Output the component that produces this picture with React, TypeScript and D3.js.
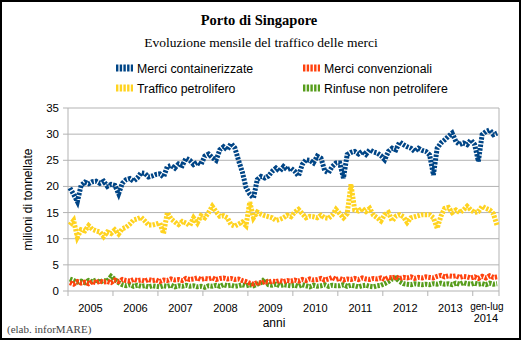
import React from "react";
import * as d3 from "d3";

const years = ["2005", "2006", "2007", "2008", "2009", "2010", "2011", "2012", "2013", "2014"];
const yTicks = [0, 5, 10, 15, 20, 25, 30, 35];

const containerizzate = [
  19.7, 18.5, 17.1, 20.2, 20.8, 20.5, 20.9, 21.0, 20.6, 21.0, 20.0, 20.4,
  20.2, 18.6, 20.6, 21.3, 21.5, 21.0, 21.6, 22.6, 22.5, 21.8, 22.0, 22.3,
  22.4, 21.8, 23.8, 24.0, 23.5, 24.3, 24.0, 25.4, 25.0, 24.2, 24.6, 24.2,
  25.8, 26.2, 25.5, 25.0, 27.0, 27.6, 27.0, 28.2, 27.4, 25.0, 22.8, 19.8,
  18.5, 17.8, 21.3, 21.9, 21.6, 22.0, 22.9, 23.5, 22.9, 23.8, 23.2, 23.5,
  22.9, 22.0, 24.2, 25.1, 25.0, 24.5, 25.8, 25.4, 23.0, 22.6, 23.8, 24.5,
  24.5, 21.6, 26.1, 26.5, 26.7, 26.2, 26.7, 26.1, 27.0, 26.6, 26.4, 25.9,
  25.1, 26.7, 27.3, 27.0, 28.5, 28.0, 27.6, 27.3, 26.7, 27.3, 26.9, 26.7,
  26.0, 22.2, 27.3, 28.3, 28.9, 29.6, 30.2, 28.6, 28.0, 28.3, 28.0, 28.9,
  28.0, 24.8, 29.9, 30.5, 30.8, 29.9, 30.2,
];

const convenzionali = [
  1.6, 1.3, 1.8, 1.5, 1.7, 1.4, 1.8, 1.6, 1.9, 1.7, 1.8, 1.6,
  2.1, 1.8, 2.2, 2.0, 1.9, 2.2, 2.0, 2.1, 1.9, 2.2, 2.0, 2.1,
  1.8, 2.1, 2.0, 2.3, 2.1, 2.2, 2.0, 2.4, 2.2, 2.3, 2.5, 2.2,
  2.4, 2.3, 2.5, 2.2, 2.4, 2.5, 2.3, 2.4, 2.2, 2.3, 2.0, 1.8,
  1.5, 1.3, 1.6, 1.5, 1.8, 1.7, 1.9, 1.8, 2.0, 1.8, 2.0, 1.9,
  2.1, 1.9, 2.2, 2.0, 2.3, 2.1, 2.2, 2.4, 2.1, 2.3, 2.6, 2.2,
  2.4, 2.1, 2.3, 2.2, 2.4, 2.2, 2.5, 2.3, 2.2, 2.4, 2.3, 2.5,
  2.2, 2.6, 2.5, 2.7, 2.4, 2.6, 2.5, 2.7, 2.4, 2.6, 2.5, 2.7,
  2.6, 2.5, 2.8, 3.0, 2.7, 2.9, 2.8, 2.9, 2.6, 2.8, 2.7, 2.5,
  2.7, 2.4, 2.8, 2.5, 2.9, 2.6, 2.7,
];

const petrolifero = [
  12.6, 13.5, 10.3, 11.7, 11.5, 12.5, 11.8, 11.5, 11.3, 10.4, 11.3, 11.0,
  11.7, 10.9, 11.9, 12.2, 12.8, 13.6, 13.8, 14.1, 13.4, 12.6, 12.6, 12.8,
  13.0, 11.0, 15.0, 13.8, 13.2, 12.7, 13.3, 13.0, 12.5, 14.0, 13.0, 14.4,
  14.0, 15.0, 16.2, 15.2, 14.3, 14.4, 14.0, 12.7, 12.4, 12.8, 13.2, 12.5,
  17.0, 14.0, 15.1, 14.7, 14.4, 14.2, 14.0, 13.5, 13.7, 14.0, 14.5, 14.2,
  15.1, 15.6, 14.8, 14.0, 14.3, 14.2, 14.0, 14.5, 14.0, 13.9, 14.5, 15.6,
  14.8, 14.0, 14.8, 20.4, 15.5, 15.3, 15.8, 15.2, 15.8, 14.5, 14.0, 13.4,
  14.6, 15.0, 13.4, 14.3, 14.6, 14.2, 13.1, 14.0, 14.2, 14.4, 14.6, 14.6,
  14.6, 14.0, 12.0, 14.3, 15.8, 16.0, 15.0, 15.5, 15.0, 15.5, 16.2, 15.5,
  15.0, 15.2, 16.2, 15.8, 15.5, 14.8, 12.5,
];

const rinfuse = [
  2.3, 2.0, 1.7, 1.9, 1.6, 2.0, 1.8, 2.1, 1.7, 2.0, 1.9, 2.8,
  2.2, 1.6, 1.2, 1.0, 1.2, 0.9, 1.1, 0.9, 1.0, 0.8, 1.0, 0.9,
  0.8, 1.0, 0.9, 1.1, 0.8, 1.0, 0.9, 1.1, 0.9, 1.0, 0.8, 0.9,
  0.7, 1.0, 0.9, 1.1, 0.9, 1.2, 1.0, 1.1, 0.9, 1.0, 1.2, 1.0,
  1.2, 1.0, 1.3, 1.6, 2.3, 1.2, 1.1, 1.3, 1.0, 1.2, 1.1, 1.0,
  1.1, 0.9, 1.2, 1.0, 0.8, 1.1, 0.9, 1.0, 1.2, 0.9, 1.1, 1.0,
  1.0, 1.2, 0.9, 1.1, 1.0, 0.8, 1.0, 1.1, 0.9, 0.8, 1.0, 1.1,
  1.4, 1.8, 2.3, 2.5, 1.8, 1.4, 1.3, 1.2, 1.4, 1.3, 1.2, 1.3,
  1.2, 1.4, 1.3, 1.5, 1.3, 1.4, 1.2, 1.5, 1.3, 1.6, 1.4, 1.3,
  1.5, 1.3, 1.4, 1.2, 1.5, 1.3, 1.4,
];

const seriesNames = ["Merci containerizzate", "Merci convenzionali", "Traffico petrolifero", "Rinfuse non petrolifere"];
const seriesColors = ["#004586", "#ff420e", "#ffd320", "#579d1c"];
const seriesData = [containerizzate, convenzionali, petrolifero, rinfuse];
// draw order: bottom series first so blue/yellow on top
const drawOrder = [3, 1, 2, 0];

const W = 521;
const H = 340;
const plot = { left: 68, right: 499, top: 108, bottom: 291 };
const sans = "'Liberation Sans', Arial, sans-serif";
const serif = "'Liberation Serif', 'Times New Roman', serif";

export default function App() {
  const n = containerizzate.length;
  const x = d3.scaleBand<number>().domain(d3.range(n)).range([plot.left, plot.right]).padding(0);
  const bw = x.bandwidth();
  const y = d3.scaleLinear().domain([0, 35]).range([plot.bottom, plot.top]);
  const line = d3
    .line<number>()
    .x((_, i) => (x(i) as number) + bw / 2)
    .y((v) => y(v));

  const tickIdx = years.map((_, k) => k * 12);
  const tickXs = tickIdx.map((i) => x(i) as number).concat([plot.right]);

  const dash = "2.4 1.3";
  const legendPos = [
    { x: 116, y: 68 },
    { x: 303, y: 68 },
    { x: 116, y: 88 },
    { x: 303, y: 88 },
  ];

  return (
    <svg width={W} height={H} style={{ position: "absolute", left: 0, top: 0 }} xmlns="http://www.w3.org/2000/svg">
      <rect x={0} y={0} width={W} height={H} fill="#fff" />
      <rect x={1} y={1} width={W - 2} height={H - 2} fill="none" stroke="#000" strokeWidth={2} />

      <text x={259} y={25} textAnchor="middle" fontFamily={serif} fontWeight="bold" fontSize={14.5}>
        Porto di Singapore
      </text>
      <text x={261} y={47} textAnchor="middle" fontFamily={serif} fontSize={13.5}>
        Evoluzione mensile del traffico delle merci
      </text>

      {seriesNames.map((name, k) => (
        <g key={name}>
          <line
            x1={legendPos[k].x}
            x2={legendPos[k].x + 17}
            y1={legendPos[k].y}
            y2={legendPos[k].y}
            stroke={seriesColors[k]}
            strokeWidth={7}
            strokeDasharray={dash}
          />
          <text x={legendPos[k].x + 21} y={legendPos[k].y + 4.5} fontFamily={sans} fontSize={12.3}>
            {name}
          </text>
        </g>
      ))}

      {yTicks.map((t) => (
        <g key={t}>
          <line x1={plot.left} x2={plot.right} y1={y(t)} y2={y(t)} stroke="#b3b3b3" strokeWidth={1} />
          <line x1={plot.left - 5} x2={plot.left} y1={y(t)} y2={y(t)} stroke="#b3b3b3" strokeWidth={1} />
          <text x={59} y={y(t) + 4} textAnchor="end" fontFamily={sans} fontSize={11.5} fill="#000">
            {t}
          </text>
        </g>
      ))}
      <line x1={plot.left} x2={plot.left} y1={plot.top} y2={plot.bottom} stroke="#b3b3b3" />
      <line x1={plot.right} x2={plot.right} y1={plot.top} y2={plot.bottom} stroke="#b3b3b3" />
      {tickXs.map((tx, k) => (
        <line key={k} x1={tx} x2={tx} y1={plot.bottom} y2={plot.bottom + 5} stroke="#b3b3b3" />
      ))}

      {years.map((yr, k) => {
        const start = x(k * 12) as number;
        const end = k * 12 + 12 <= n ? start + 12 * bw : plot.right;
        const cx = (start + end) / 2;
        if (yr === "2014") {
          return (
            <g key={yr}>
              <text x={cx + 1} y={310} textAnchor="middle" fontFamily={sans} fontSize={10}>
                gen-lug
              </text>
              <text x={cx} y={322} textAnchor="middle" fontFamily={sans} fontSize={11}>
                {yr}
              </text>
            </g>
          );
        }
        return (
          <text key={yr} x={cx} y={312} textAnchor="middle" fontFamily={sans} fontSize={11}>
            {yr}
          </text>
        );
      })}

      <text x={274} y={327} textAnchor="middle" fontFamily={sans} fontSize={12}>
        anni
      </text>
      <text
        transform={`translate(32, ${(plot.top + plot.bottom) / 2}) rotate(-90)`}
        textAnchor="middle"
        fontFamily={sans}
        fontSize={12}
      >
        milioni di tonnellate
      </text>

      {drawOrder.map((k) => (
        <path
          key={seriesNames[k]}
          d={line(seriesData[k]) || ""}
          fill="none"
          stroke={seriesColors[k]}
          strokeWidth={5}
          strokeDasharray={dash}
        />
      ))}

      <text x={7} y={333} fontFamily={serif} fontSize={11} fill="#444">
        (elab. inforMARE)
      </text>
    </svg>
  );
}
